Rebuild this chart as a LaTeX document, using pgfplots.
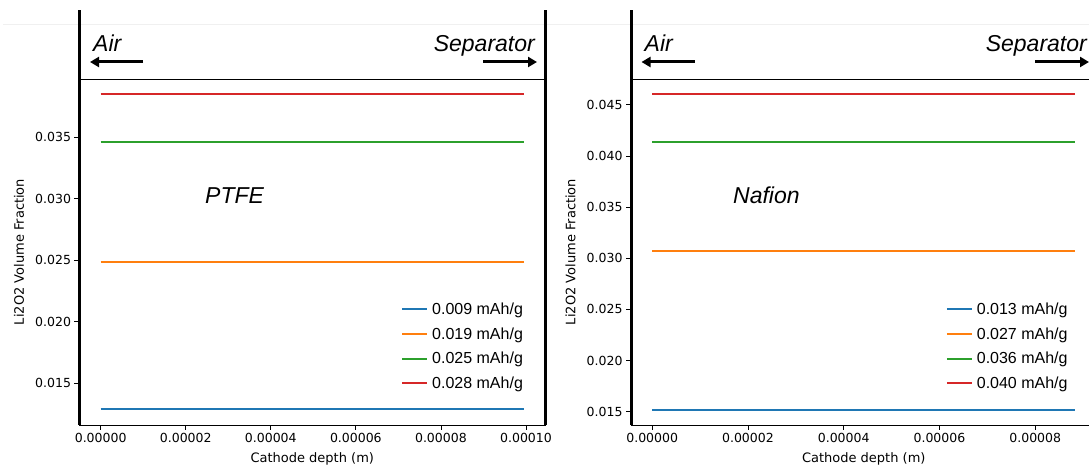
\documentclass[border=0pt]{standalone}
\usepackage{fontspec}
\setmainfont{DejaVu Sans}
\newfontfamily\arial{Liberation Sans}
\usepackage{pgfplots}
\pgfplotsset{compat=1.18}
\usetikzlibrary{arrows.meta}
\definecolor{tabblue}{RGB}{31,119,180}
\definecolor{taborange}{RGB}{255,127,14}
\definecolor{tabgreen}{RGB}{44,160,44}
\definecolor{tabred}{RGB}{214,39,40}
\pgfplotsset{
  panel/.style={
    scale only axis,
    width=465.5pt, height=346pt,
    anchor=south west,
    axis line style={black, line width=0.8pt},
    tick align=outside,
    major tick length=5pt,
    tick style={black, line width=0.8pt},
    xtick pos=bottom, ytick pos=left,
    scaled ticks=false,
    /pgf/number format/assume math mode=true,
    tick label style={font=\fontsize{12.5}{14}\selectfont},
    label style={font=\fontsize{13}{15}\selectfont},
    xlabel={Cathode depth (m)},
    ylabel={Li2O2 Volume Fraction},
    xlabel style={at={(axis description cs:0.5,-0.098)}, anchor=center},
    ylabel style={at={(axis description cs:-0.13,0.5)}, anchor=center},
    legend cell align=left,
    legend style={draw=none, fill=none, anchor=north west,
      font=\arial\fontsize{16}{19}\selectfont,
      row sep=7.5pt,
      /tikz/every odd column/.style={column sep=2pt}},
    legend image code/.code={\draw[#1] (0pt,0pt) -- (25pt,0pt);},
    clip=false,
  },
  sb/.style={color=tabblue, line width=2pt, mark=none, solid},
  so/.style={color=taborange, line width=2pt, mark=none, solid},
  sg/.style={color=tabgreen, line width=2pt, mark=none, solid},
  sr/.style={color=tabred, line width=2pt, mark=none, solid},
}
\begin{document}
\begin{tikzpicture}
\path[use as bounding box] (0pt,0pt) rectangle (1089pt,470pt);
\draw[gray!12, line width=1pt] (3pt,445pt) -- (1089pt,445pt);
% Left panel: PTFE
\begin{axis}[panel, at={(79.5pt,45pt)},
  xmin=-0.000004975, xmax=0.000104475,
  ymin=0.0116, ymax=0.03974,
  xtick={0,0.00002,0.00004,0.00006,0.00008,0.0001},
  xticklabels={0.00000,0.00002,0.00004,0.00006,0.00008,0.00010},
  ytick={0.015,0.020,0.025,0.030,0.035},
  yticklabels={0.015,0.020,0.025,0.030,0.035},
  legend style={at={(axis description cs:0.6842,0.365)}},
]
\addplot[sb] coordinates {(0,0.01288) (0.00005,0.01288) (0.0000995,0.01288)};
\addplot[so] coordinates {(0,0.02489) (0.00005,0.02489) (0.0000995,0.02489)};
\addplot[sg] coordinates {(0,0.03462) (0.00005,0.03462) (0.0000995,0.03462)};
\addplot[sr] coordinates {(0,0.0385) (0.00005,0.0385) (0.0000995,0.0385)};
\legend{0.009 mAh/g, 0.019 mAh/g, 0.025 mAh/g, 0.028 mAh/g}
\end{axis}
% Right panel: Nafion
\begin{axis}[panel, at={(631pt,45pt)},
  xmin=-0.00000442, xmax=0.0000928,
  ymin=0.0137, ymax=0.04753,
  xtick={0,0.00002,0.00004,0.00006,0.00008},
  xticklabels={0.00000,0.00002,0.00004,0.00006,0.00008},
  ytick={0.015,0.020,0.025,0.030,0.035,0.040,0.045},
  yticklabels={0.015,0.020,0.025,0.030,0.035,0.040,0.045},
  legend style={at={(axis description cs:0.6695,0.365)}},
]
\addplot[sb] coordinates {(0,0.0152) (0.00004,0.0152) (0.0000884,0.0152)};
\addplot[so] coordinates {(0,0.03071) (0.00004,0.03071) (0.0000884,0.03071)};
\addplot[sg] coordinates {(0,0.0414) (0.00004,0.0414) (0.0000884,0.0414)};
\addplot[sr] coordinates {(0,0.04608) (0.00004,0.04608) (0.0000884,0.04608)};
\legend{0.013 mAh/g, 0.027 mAh/g, 0.036 mAh/g, 0.040 mAh/g}
\end{axis}
% thick boundary lines
\foreach \xx in {79.5,545,631,1097} {
  \draw[black, line width=3pt] (\xx pt,45pt) -- (\xx pt,460pt);
}
% annotations
\foreach \xl/\xr in {79.5/545, 631/1097} {
  \node[font=\arial\itshape\fontsize{23}{27}\selectfont, anchor=base west, inner sep=0pt] at (\xl pt+13.5pt,418pt) {Air};
  \node[font=\arial\itshape\fontsize{23}{27}\selectfont, anchor=base east, inner sep=0pt] at (\xr pt-10pt,418pt) {Separator};
  \draw[line width=3pt, -{Triangle[length=9pt,width=10pt]}] (\xl pt+63.5pt,408pt) -- (\xl pt+10.5pt,408pt);
  \draw[line width=3pt, -{Triangle[length=9pt,width=10pt]}] (\xr pt-62pt,408pt) -- (\xr pt-8pt,408pt);
}
\node[font=\arial\itshape\fontsize{23}{27}\selectfont, anchor=base west, inner sep=0pt] at (205pt,266pt) {PTFE};
\node[font=\arial\itshape\fontsize{23}{27}\selectfont, anchor=base west, inner sep=0pt] at (733pt,266pt) {Nafion};
\end{tikzpicture}
\end{document}
